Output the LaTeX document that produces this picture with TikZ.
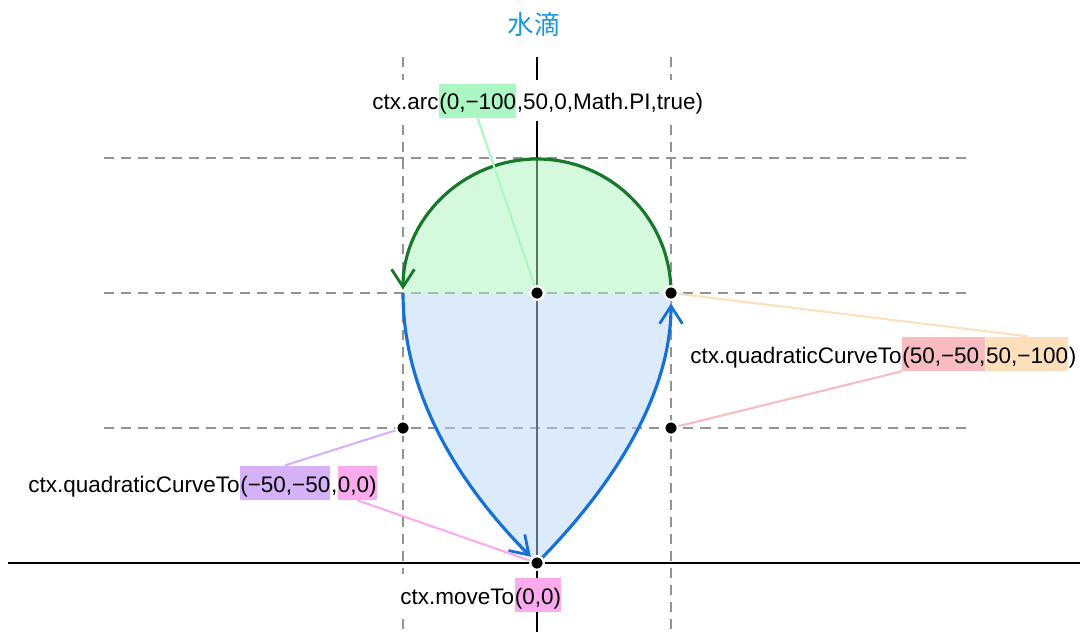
\documentclass[tikz,border=0pt]{standalone}
\usepackage{fontspec}
\setmainfont{Liberation Sans}
\newfontfamily\cjk{Noto Sans CJK SC}
\usetikzlibrary{positioning}
\usetikzlibrary{arrows.meta}

\definecolor{titleBlue}{HTML}{1C96DC}
\definecolor{strokeBlue}{HTML}{1670D8}
\definecolor{strokeGreen}{HTML}{17782A}
\definecolor{fillGreen}{HTML}{ABF3BB}
\definecolor{fillBlue}{HTML}{B9D7F7}
\definecolor{hlGreen}{HTML}{ABF7C3}
\definecolor{hlRed}{HTML}{F8BBBF}
\definecolor{hlPeach}{HTML}{FDDFBB}
\definecolor{hlPurple}{HTML}{D5B2F8}
\definecolor{hlPink}{HTML}{FBAAEE}

\tikzset{
  txt/.style={inner xsep=0pt, inner ysep=2pt, fill=white, text height=15pt, text depth=4.5pt,
    font=\fontsize{12.8}{15}\selectfont},
  hl/.style={txt, inner ysep=0pt, fill=#1},
  guide/.style={gray!85, line width=0.6pt, dash pattern=on 5.7pt off 4pt},
  axisline/.style={black, line width=0.6pt},
  tip/.style={-{Straight Barb[length=10pt,width=13pt,line width=1.6pt]}},
  curveline/.style={strokeBlue, line width=1.8pt, tip},
  arcline/.style={strokeGreen, line width=1.8pt, tip},
  link/.style={line width=1.2pt, #1},
  dot/.style={circle, fill=black, draw=white, line width=1.2pt, inner sep=0pt, minimum size=7.6pt}
}

\begin{document}
\begin{tikzpicture}[x=0.02cm, y=-0.02cm]
    \useasboundingbox (0,0) rectangle (1087,642);

    % Define the coordinates of the points
    \coordinate (pO) at (537,563);
    \coordinate (pC) at (537,293);
    \coordinate (pR) at (671,293);
    \coordinate (pL) at (403,293);
    \coordinate (qR) at (671,428);
    \coordinate (qL) at (403,428);

    \node[font=\cjk\fontsize{15}{18}\selectfont, text=titleBlue] (title) at (534,24) {水滴};

    % guides and axes
    \foreach \y in {158,293,428}
        \draw[guide] (104,\y) -- (968,\y);
    \foreach \x in {403,671}
        \draw[guide] (\x,57) -- (\x,632);
    \draw[axisline] (8,563) -- (1080,563);
    \draw[axisline] (537,57) -- (537,632);

    % the drop
    \fill[fillGreen, fill opacity=.5] (pR) arc[start angle=0, end angle=-180, radius=134] -- cycle;
    \fill[fillBlue, fill opacity=.5] (pO) .. controls (626.3,473) and (671,383) .. (pR)
        -- (pL) .. controls (403,383) and (447.7,473) .. (pO) -- cycle;
    \draw[curveline, shorten >=6pt] (pO) .. controls (626.3,473) and (671,383) .. (pR);
    \draw[arcline, shorten >=2pt] (pR) arc[start angle=0, end angle=-180, radius=134];
    \draw[curveline, shorten >=5pt] (pL) .. controls (403,383) and (447.7,473) .. (pO);

    % labels
    \node[txt, anchor=base west] (arcA) at (372,110) {ctx.arc};
    \node[hl=hlGreen, base right=0pt of arcA] (arcB) {(0,−100};
    \node[txt, base right=0pt of arcB] (arcC) {,50,0,Math.PI,true)};

    \node[txt, anchor=base west] (quadRA) at (690,363) {ctx.quadraticCurveTo};
    \node[hl=hlRed, base right=0pt of quadRA] (quadRB) {(50,−50,};
    \node[hl=hlPeach, base right=0pt of quadRB] (quadRC) {50,−100};
    \node[txt, base right=0pt of quadRC] (quadRD) {)};

    \node[txt, anchor=base west] (quadLA) at (28,492) {ctx.quadraticCurveTo};
    \node[hl=hlPurple, base right=0pt of quadLA] (quadLB) {(−50,−50};
    \node[txt, base right=0pt of quadLB] (quadLC) {,};
    \node[hl=hlPink, base right=0pt of quadLC] (quadLD) {0,0)};

    \node[txt, anchor=base west] (moveA) at (400,604) {ctx.moveTo};
    \node[hl=hlPink, base right=0pt of moveA] (moveB) {(0,0)};

    % dots
    \foreach \point in {pO,pC,pR,qR,qL}
        \node[dot] (d\point) at (\point) {};

    % connectors
    \draw[link=hlGreen] (arcB.south) -- (dpC);
    \draw[link=hlPeach] (quadRC.north) -- (dpR);
    \draw[link=hlRed] (quadRB.south west) -- (dqR);
    \draw[link=hlPurple] (quadLB.north) -- (dqL);
    \draw[link=hlPink] (quadLD.south) -- (dpO);
    \foreach \point in {pO,pC,pR,qR,qL}
        \node[dot] at (\point) {};

\end{tikzpicture}
\end{document}
